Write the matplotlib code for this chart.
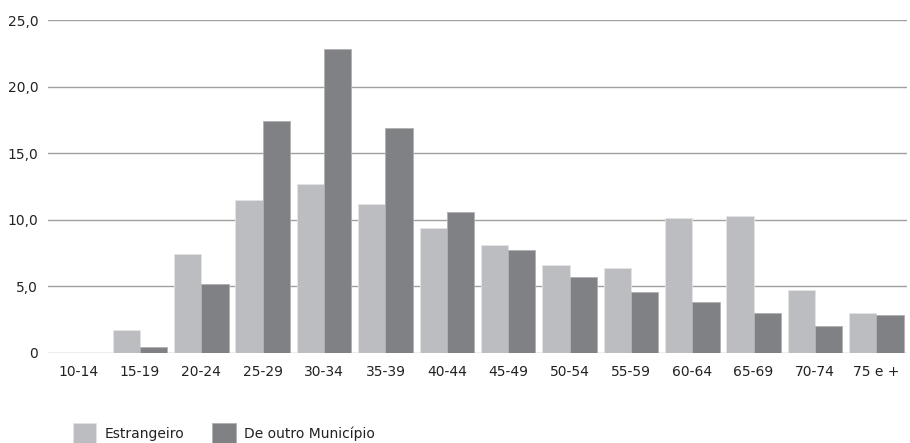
import matplotlib
matplotlib.use("Agg")
import matplotlib.pyplot as plt
import numpy as np

faixas = ["10-14", "15-19", "20-24", "25-29", "30-34", "35-39", "40-44",
          "45-49", "50-54", "55-59", "60-64", "65-69", "70-74", "75 e +"]
estrangeiro = [0.0, 1.7, 7.4, 11.5, 12.7, 11.2, 9.4, 8.1, 6.6, 6.4, 10.1, 10.3, 4.7, 3.0]
outro_municipio = [0.0, 0.45, 5.2, 17.4, 22.8, 16.9, 10.6, 7.7, 5.7, 4.55, 3.85, 3.0, 2.0, 2.85]

fig = plt.figure(figsize=(9.1, 4.43), dpi=100)
ax = fig.add_axes([48 / 910, 1 - 353 / 443, 859 / 910, 333 / 443])

x = np.arange(len(faixas))
w = 0.445
ax.bar(x - w / 2, estrangeiro, w, color="#bcbdc0", edgecolor="#e4e4e6",
       linewidth=0.6, label="Estrangeiro", zorder=3)
ax.bar(x + w / 2, outro_municipio, w, color="#808184", edgecolor="#b0b0b2",
       linewidth=0.6, label="De outro Município", zorder=3)

ax.set_ylim(0, 25)
ax.set_xlim(-0.5, len(faixas) - 0.5)
ax.set_yticks(np.arange(0, 26, 5))
ax.set_yticklabels(["0", "5,0", "10,0", "15,0", "20,0", "25,0"])
ax.set_xticks(x)
ax.set_xticklabels(faixas)
ax.yaxis.grid(True, color="#a0a0a0", linewidth=1.0, zorder=0)
ax.set_axisbelow(True)
for s in ax.spines.values():
    s.set_visible(False)
ax.tick_params(axis="both", length=0, labelsize=10, colors="#222222")
ax.tick_params(axis="x", pad=9)
ax.tick_params(axis="y", pad=7)

leg = fig.legend(loc="lower left", bbox_to_anchor=(60 / 910, -0.032), ncol=2,
                 frameon=False, fontsize=10, handlelength=1.7, handleheight=2.0,
                 columnspacing=2.0, handletextpad=0.6)
for t in leg.get_texts():
    t.set_color("#222222")

fig.savefig("out.png", dpi=100)
